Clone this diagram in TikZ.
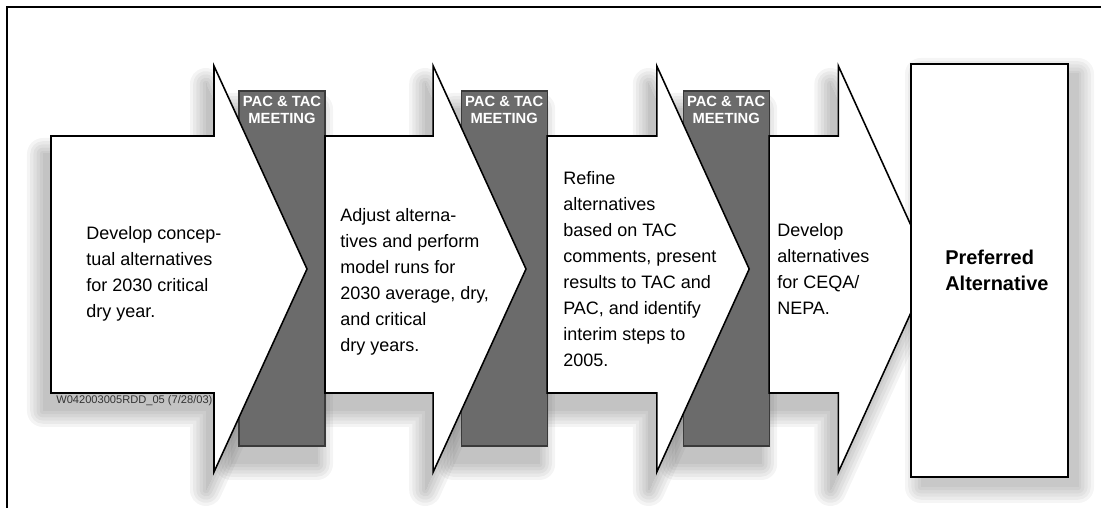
\documentclass[tikz,border=0pt]{standalone}
\usepackage{fontspec}
\setmainfont{Liberation Sans}
\usetikzlibrary{positioning, calc}
\definecolor{bargray}{RGB}{107,107,107}
\definecolor{baredge}{RGB}{58,58,58}

\begin{document}
\begin{tikzpicture}[
    stepshape/.style={draw=black, line width=1.1pt, fill=white, line join=miter},
    stepshadow/.style={fill=black, draw=black, line join=round},
    meetbar/.style={draw=baredge, line width=0.8pt, fill=bargray,
                    minimum width=2.15cm, minimum height=8.875cm, inner sep=0pt},
    meetlabel/.style={anchor=north, align=center, text=white, inner sep=0pt, yshift=-0.14cm,
                      font=\bfseries\fontsize{10.5}{12.2}\selectfont},
    steptext/.style={anchor=west, align=left, inner sep=0pt, font=\fontsize{12.8}{18.5}\selectfont},
    goalbox/.style={draw=black, line width=1.3pt, fill=white,
                    minimum width=3.925cm, minimum height=10.325cm, inner sep=0pt},
    goaltext/.style={anchor=west, align=left, inner sep=0pt, font=\bfseries\fontsize{14.2}{18.5}\selectfont},
    stamp/.style={anchor=west, inner sep=0pt, text=black!80, font=\fontsize{7.9}{9}\selectfont}
]
\useasboundingbox (0,0) rectangle (27.525,12.7);
\foreach \w in {0.8,0.64,0.48,0.32,0.16,0}{
  \foreach \l/\b/\t in {1.275/5.35/7.675, 8.125/10.83/13.15, 13.68/16.42/18.73, 19.23/20.96/23.27}{
    \begin{scope}[transparency group, opacity=0.045]
      \filldraw[stepshadow, line width=\w cm, shift={(-0.2,-0.45)}]
        (\l,9.3) -- (\b,9.3) -- (\b,11.05) -- (\t,5.975) -- (\b,0.9) -- (\b,2.875) -- (\l,2.875) -- cycle;
    \end{scope}}
  \foreach \x in {7.05,12.605,18.154}{
    \begin{scope}[transparency group, opacity=0.045]
      \filldraw[stepshadow, line width=\w cm, shift={(-0.2,-0.45)}]
        (\x-1.075,1.55) rectangle (\x+1.075,10.425);
    \end{scope}}
  \begin{scope}[transparency group, opacity=0.04]
    \filldraw[stepshadow, line width=\w cm, shift={(0.25,-0.25)}] (22.775,0.775) rectangle (26.7,11.1);
  \end{scope}
}
\node[meetbar, label={[meetlabel]90:PAC \& TAC\\MEETING}] (meet1) at (7.05,5.9875) {};
\node[meetbar, label={[meetlabel]90:PAC \& TAC\\MEETING}] (meet2) at (12.605,5.9875) {};
\node[meetbar, label={[meetlabel]90:PAC \& TAC\\MEETING}] (meet3) at (18.154,5.9875) {};
\foreach \l/\b/\t in {1.275/5.35/7.675, 8.125/10.83/13.15, 13.68/16.42/18.73, 19.23/20.96/23.27}
  \draw[stepshape] (\l,9.3) -- (\b,9.3) -- (\b,11.05) -- (\t,5.975) -- (\b,0.9) -- (\b,2.875) -- (\l,2.875) -- cycle;
\node[goalbox] (goal) at (24.7375,5.9375) {};
\node[steptext] (step1) at (2.15,5.8625) {Develop concep-\\tual alternatives\\for 2030 critical\\dry year.};
\node[steptext] (step2) at (8.5,5.65) {Adjust alterna-\\tives and perform\\model runs for\\2030 average, dry,\\and critical\\dry years.};
\node[steptext] (step3) at (14.075,5.975) {Refine\\alternatives\\based on TAC\\comments, present\\results to TAC and\\PAC, and identify\\interim steps to\\2005.};
\node[steptext] (step4) at (19.425,5.975) {Develop\\alternatives\\for CEQA/\\NEPA.};
\node[goaltext] (goalname) at (23.625,5.95) {Preferred\\Alternative};
\node[stamp] (code) at (1.4,2.6825) {W042003005RDD\_05 (7/28/03)};
\draw[line width=1.5pt] (0.18,0) -- (0.18,12.53) -- (27.525,12.53);
\end{tikzpicture}
\end{document}
